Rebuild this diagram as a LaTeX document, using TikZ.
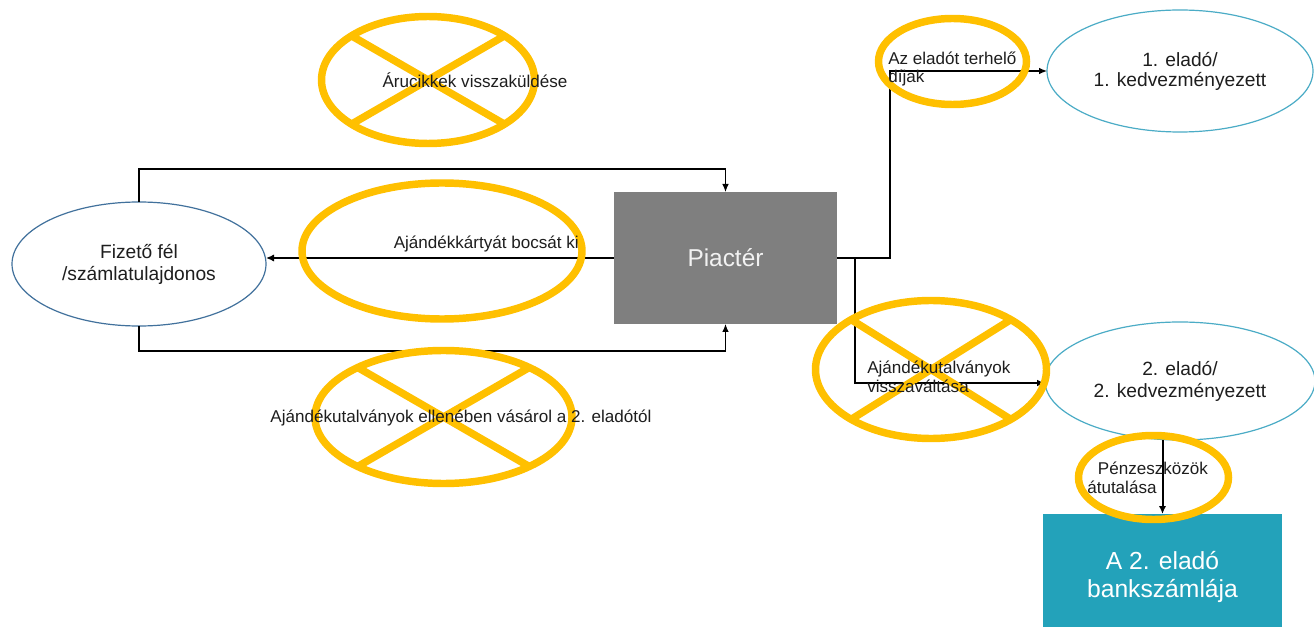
\documentclass[tikz,border=0pt]{standalone}
\usepackage{fontspec}
\setmainfont{Liberation Sans}
\usetikzlibrary{shapes.geometric,arrows.meta,calc}

\definecolor{markorange}{HTML}{FFC000}
\definecolor{payerblue}{HTML}{41719C}
\definecolor{sellerteal}{HTML}{4BACC6}
\definecolor{marketgray}{HTML}{7F7F7F}
\definecolor{bankteal}{HTML}{23A2BA}
\definecolor{inkdark}{HTML}{1E1E1E}

\tikzset{
  party/.style={ellipse, draw, line width=0.9pt, inner sep=0pt, outer sep=0pt, align=center,
    text=inkdark, font=\fontsize{14.4}{16.5}\selectfont},
  block/.style={rectangle, inner sep=0pt, outer sep=0pt, align=center},
  flow/.style={draw=black, line width=0.9pt, -{Latex[length=6pt,width=5pt]}},
  mainflow/.style={draw=black, line width=1.5pt, -{Latex[length=6pt,width=5.5pt]}},
  tag/.style={inner sep=0pt, text=inkdark, font=\fontsize{12.8}{14}\selectfont, align=left},
  ring/.style={ellipse, draw=markorange, line width=5.6pt, inner sep=0pt, outer sep=0pt},
  cross/.style={draw=markorange, line width=5.6pt},
}

\begin{document}
\begin{tikzpicture}[x=0.75pt,y=-0.75pt]
\clip (0,0) rectangle (1314,627);
\fill[white] (0,0) rectangle (1314,627);

% parties and blocks
\node[party, draw=payerblue, minimum width=254*0.75pt, minimum height=124*0.75pt]
  (fiz) at (139,264) {Fizető fél\\/számlatulajdonos};
\node[block, fill=marketgray, minimum width=223*0.75pt, minimum height=132*0.75pt,
  text=white!95!black, font=\fontsize{18.3}{22}\selectfont] (piac) at (725.5,258) {Piactér};
\node[party, draw=sellerteal, minimum width=266*0.75pt, minimum height=122*0.75pt,
  font=\fontsize{14.4}{15}\selectfont] (e1) at (1180,71) {1. eladó/\\1. kedvezményezett};
\node[party, draw=sellerteal, minimum width=270*0.75pt, minimum height=118*0.75pt]
  (e2) at (1180,381) {2. eladó/\\2. kedvezményezett};
\node[block, fill=bankteal, minimum width=239*0.75pt, minimum height=126*0.75pt,
  text=white, font=\fontsize{18.5}{21}\selectfont] (bank) at (1162.5,577) {A 2. eladó\\bankszámlája};

% connectors
\draw[flow] (fiz.north) -- ++(0,-33) -| (piac.north);
\draw[flow] (fiz.south) -- ++(0,25) -| (piac.south);
\draw[mainflow] (piac.west) -- (fiz.east |- piac.west);
\draw[flow] (piac.east) -- ++(53,0) |- (e1.west);
\draw[flow] (piac.east) -- ++(18,0) |- ($(e2.west)+(0,2)$);
\draw[mainflow] (bank.north |- e2.south) -- (bank.north);

% orange rings, crossed where the flow is struck out
\node[ring, minimum width=213*0.75pt, minimum height=127*0.75pt] (xa) at (428,80) {};
\draw[cross] (xa.150) -- (xa.-30) (xa.30) -- (xa.210);
\node[ring, minimum width=280*0.75pt, minimum height=136*0.75pt] (ra) at (442,251) {};
\node[ring, minimum width=257*0.75pt, minimum height=133*0.75pt] (xb) at (443.5,417) {};
\draw[cross] (xb.150) -- (xb.-30) (xb.30) -- (xb.210);
\node[ring, minimum width=231*0.75pt, minimum height=138*0.75pt] (xc) at (931,369.5) {};
\draw[cross] (xc.148) -- (xc.-32) (xc.32) -- (xc.212);
\node[ring, minimum width=148*0.75pt, minimum height=86*0.75pt] (rb) at (952.5,61.5) {};
\node[ring, minimum width=150*0.75pt, minimum height=84*0.75pt] (rc) at (1153.5,477.5) {};

% flow labels
\node[tag] (ta) at (475,80) {Árucikkek visszaküldése};
\node[tag, anchor=base east] (tb) at (579,249) {Ajándékkártyát bocsát ki};
\node[tag] (tc) at (461,418) {Ajándékutalványok ellenében vásárol a 2. eladótól};
\node[tag, anchor=west] (td) at (888,69) {Az eladót terhelő\\díjak};
\node[tag, anchor=west] (te) at (867,377) {Ajándékutalványok\\visszaváltása};
\node[tag, anchor=west] (tf) at (1087,478) {\hspace*{8pt}Pénzeszközök\\átutalása};
\end{tikzpicture}
\end{document}
